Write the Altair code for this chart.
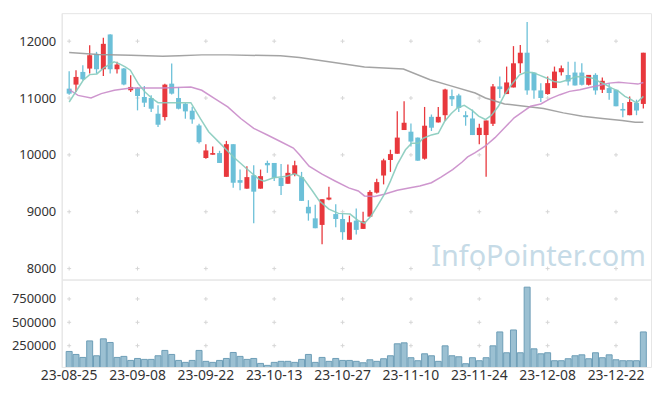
import altair as alt
import pandas as pd

# ---------------- data ----------------
opens = [11165, 11236, 11459, 11518, 11777, 11506, 12118, 11506, 11518, 11136,
         11177, 11018, 11000, 10724, 10665, 11253, 11000, 10900, 10777, 10518,
         9945, 10003, 10032, 9614, 10188, 9556, 9406, 9643, 9406, 9858,
         9858, 9597, 9492, 9655, 9609, 9087, 8884, 8768, 9214, 8959,
         8872, 8507, 8843, 8698, 8913, 9336, 9637, 9910, 10020, 10437,
         10408, 10304, 9933, 10669, 10571, 10698, 11035, 11046, 10698, 10640,
         10349, 10349, 10547, 11204, 11070, 11186, 11611, 11797, 11448, 11134,
         11070, 11175, 11454, 11407, 11448, 11448, 11233, 11407, 11146, 11175,
         11146, 10808, 10698, 10913, 10896]
highs = [11471, 11489, 11577, 11930, 11812, 12059, 12120, 11636, 11530, 11400,
         11190, 11212, 11047, 10871, 11253, 11606, 11195, 10910, 10848, 10548,
         10188, 10148, 10072, 10246, 10188, 9742, 9800, 9817, 9742, 9898,
         9858, 9840, 9829, 9898, 9701, 9203, 9122, 9220, 9440, 9133,
         8959, 8930, 9058, 9000, 9377, 9580, 9933, 10090, 10768, 10942,
         10553, 10304, 10843, 10710, 10843, 11162, 11150, 11075, 10768, 10797,
         10547, 10605, 11245, 11378, 11553, 11913, 11931, 12338, 11448, 11262,
         11378, 11553, 11570, 11640, 11640, 11611, 11407, 11436, 11361, 11262,
         11146, 10913, 11029, 10971, 11797]
lows = [11059, 11106, 11310, 11430, 11430, 11389, 11430, 11430, 11224, 11106,
        10783, 10842, 10753, 10489, 10606, 11060, 10800, 10636, 10548, 10200,
        9933, 10003, 9858, 9614, 9423, 9377, 9406, 8797, 9406, 9684,
        9539, 9295, 9492, 9626, 9191, 8843, 8710, 8426, 9203, 8727,
        8507, 8507, 8600, 8698, 8913, 9319, 9481, 9701, 10020, 10437,
        10148, 9898, 9916, 10420, 10571, 10594, 10861, 10756, 10513, 10349,
        10186, 9617, 10506, 11000, 11070, 11186, 11436, 11059, 10989, 10931,
        11059, 11175, 11396, 11221, 11221, 11221, 11221, 11059, 11088, 10971,
        10855, 10663, 10698, 10698, 10814]
closes = [11077, 11371, 11330, 11753, 11506, 11953, 11506, 11589, 11236, 11195,
          11036, 10918, 10812, 10530, 11236, 11077, 10812, 10765, 10624, 10224,
          10078, 10032, 9858, 10188, 9510, 9510, 9609, 9353, 9626, 9817,
          9597, 9452, 9684, 9817, 9191, 8971, 8710, 9220, 9249, 8872,
          8640, 8814, 8681, 8832, 9348, 9521, 9904, 10014, 10304, 10565,
          10234, 9898, 10513, 10478, 10669, 11150, 10977, 10826, 10663, 10349,
          10477, 10605, 11204, 11157, 11274, 11611, 11797, 11134, 11134, 11000,
          11262, 11465, 11524, 11291, 11221, 11233, 11407, 11134, 11303, 11088,
          10855, 10780, 10931, 10780, 11797]
volumes = [188000, 156000, 124000, 301000, 142000, 323000, 284000, 124000, 135000, 92000,
           113000, 103000, 103000, 142000, 199000, 156000, 92000, 71000, 92000, 199000,
           82000, 71000, 92000, 113000, 177000, 135000, 103000, 113000, 60000, 39000,
           71000, 82000, 82000, 71000, 103000, 156000, 71000, 124000, 82000, 113000,
           92000, 92000, 82000, 67000, 99000, 82000, 110000, 142000, 270000, 280000,
           121000, 89000, 163000, 142000, 82000, 248000, 142000, 131000, 57000, 121000,
           89000, 121000, 248000, 397000, 174000, 418000, 174000, 876000, 216000, 163000,
           174000, 89000, 89000, 110000, 142000, 152000, 110000, 174000, 121000, 152000,
           99000, 89000, 89000, 89000, 397000]

tick_pos = [0, 10, 20, 30, 40, 50, 60, 70, 80]
tick_labels = ["23-08-25", "23-09-08", "23-09-22", "23-10-13", "23-10-27",
               "23-11-10", "23-11-24", "23-12-08", "23-12-22"]
price_ticks = [8000, 9000, 10000, 11000, 12000]
volume_ticks = [250000, 500000, 750000]

ma5_pos = [0, 2.05, 3, 4.05, 5.05, 6.57, 7.3, 8.2, 8.95, 10.1, 11.1, 12.05, 13, 17.8, 19.2,
           20.4, 22.3, 24.2, 26.1, 27.8, 28.5, 29.9, 31.8, 33, 34.2, 35.6, 36.6, 38, 39.4,
           41.1, 42.3, 43.2, 44.2, 45.1, 46.1, 47, 48, 49.2, 50.1, 51.1, 51.8, 53, 54,
           54.9, 55.9, 56.8, 57.8, 59, 59.9, 60.9, 61.8, 62.8, 63.7, 64.7, 65.9, 66.8,
           67.8, 68.7, 69.9, 70.9, 71.8, 73, 74.2, 75.4, 76.6, 77.5, 78.5, 79.4, 80.4,
           81.3, 82, 83, 84]
ma5_val = [10930, 11312, 11412, 11424, 11530, 11636, 11606, 11547, 11489, 11253, 11106, 11000, 10918, 10918, 10636,
           10408, 10176, 9945, 9742, 9568, 9539, 9597, 9626, 9666, 9597, 9365, 9191, 9046, 8971,
           8959, 8843, 8797, 8930, 9104, 9307, 9539, 9829, 10090, 10206, 10206, 10293, 10351, 10380,
           10582, 10727, 10826, 10870, 10779, 10681, 10622, 10698, 10855, 11059, 11233, 11407, 11454,
           11448, 11407, 11349, 11291, 11279, 11320, 11378, 11372, 11349, 11291, 11233, 11175, 11117,
           11029, 10989, 10913, 11029]

ma20_pos = [0, 1.3, 3.2, 4.7, 6.6, 9, 13.7, 17.8, 19.4, 21.3, 23.2, 25.1, 27, 29, 30.9, 32.8,
            33.7, 35.1, 37, 38.9, 40.9, 42.3, 43.2, 44.7, 46.1, 48, 49.9, 51.3, 53, 54.4,
            56.1, 57.5, 58.3, 59.4, 60.9, 62.3, 63.7, 65.1, 66.6, 67.5, 69, 70.4, 71.8,
            73.2, 74.7, 76.1, 77.5, 79, 80.4, 81.8, 83.2, 84]
ma20_val = [11150, 11047, 11000, 11077, 11136, 11177, 11177, 11195, 11136, 10988, 10843, 10640, 10466, 10350, 10235, 10119,
            10003, 9800, 9660, 9540, 9420, 9365, 9278, 9267, 9307, 9377, 9423, 9452, 9510, 9609,
            9742, 9875, 9965, 10041, 10157, 10303, 10477, 10652, 10779, 10855, 10896, 10989, 11059,
            11117, 11146, 11186, 11221, 11262, 11279, 11262, 11245, 11274]

malong_pos = [0, 4.2, 9, 13.7, 16.1, 19.4, 23.2, 30.9, 33.7, 38.5, 43.2, 48.9, 52.8, 55.6,
              59.4, 60.9, 63.7, 66.6, 69.4, 72.3, 75.1, 78, 80.9, 82.8, 84]
malong_val = [11800, 11765, 11753, 11736, 11742, 11759, 11759, 11742, 11713, 11631, 11544, 11509, 11322, 11223,
              11089, 11000, 10896, 10855, 10814, 10739, 10681, 10640, 10605, 10576, 10576]

# ---------------- tables ----------------
n = len(opens)
df = pd.DataFrame({"i": list(range(n)), "open": opens, "high": highs,
                   "low": lows, "close": closes, "volume": volumes})
df["dir"] = ["up" if c >= o else "down" for o, c in zip(opens, closes)]

ma5_df = pd.DataFrame({"i": ma5_pos, "v": ma5_val})
ma20_df = pd.DataFrame({"i": ma20_pos, "v": ma20_val})
malong_df = pd.DataFrame({"i": malong_pos, "v": malong_val})

cross_main = pd.DataFrame([(x, y) for x in tick_pos for y in price_ticks], columns=["i", "v"])
cross_vol = pd.DataFrame([(x, y) for x in tick_pos for y in volume_ticks], columns=["i", "v"])
label_df = pd.DataFrame({"i": tick_pos, "lab": tick_labels})

W = 593
H_MAIN = 268
H_VOL = 88
FONT = "Noto Sans"
xdom = [-0.37, 84.4]


def xs():
    return alt.Scale(domain=xdom, nice=False, zero=False)


def ps():
    return alt.Scale(domain=[7808, 12493], nice=False, zero=False)


def vs():
    return alt.Scale(domain=[22000, 958000], nice=False, zero=False)


def p_axis():
    return alt.Axis(values=price_ticks, format="d", title=None)


def v_axis():
    return alt.Axis(values=volume_ticks, format="d", title=None)


CROSS = "M-1,0L1,0M0,-1L0,1"
RED = "#e8383d"
BLUE = "#6cc0d8"

up_df = df[df["dir"] == "up"]
dn_df = df[df["dir"] == "down"]


def candles(data, color):
    w = alt.Chart(data).mark_rule(strokeWidth=1.3, color=color).encode(
        x=alt.X("i:Q", scale=xs(), axis=None),
        y=alt.Y("low:Q", scale=ps(), axis=p_axis()),
        y2="high:Q",
    )
    b = alt.Chart(data).mark_bar(size=5, color=color).encode(
        x=alt.X("i:Q", scale=xs(), axis=None),
        y=alt.Y("open:Q", scale=ps(), axis=p_axis()),
        y2="close:Q",
    )
    return [w, b]


crosses_m = alt.Chart(cross_main).mark_point(
    shape=CROSS, size=16, filled=False, color="#d6d6d6", strokeWidth=1, opacity=1
).encode(
    x=alt.X("i:Q", scale=xs(), axis=None),
    y=alt.Y("v:Q", scale=ps(), axis=p_axis()),
)


def ma_line(data, color):
    return alt.Chart(data).mark_line(strokeWidth=1.5, opacity=0.9, color=color).encode(
        x=alt.X("i:Q", scale=xs(), axis=None),
        y=alt.Y("v:Q", scale=ps(), axis=p_axis()),
    )


watermark = alt.Chart(pd.DataFrame({"t": ["InfoPointer.com"]})).mark_text(
    align="right", baseline="alphabetic", font=FONT, fontSize=29, color="#c6dbe7"
).encode(text="t:N", x=alt.value(588), y=alt.value(254))

main = alt.layer(
    crosses_m, watermark,
    *candles(up_df, RED), *candles(dn_df, BLUE),
    ma_line(malong_df, "#9a9a9a"), ma_line(ma20_df, "#c98bc9"), ma_line(ma5_df, "#86cbbd"),
).properties(width=W, height=H_MAIN)

vol_bars = alt.Chart(df).mark_bar(size=6, fill="#9bc0d2", stroke="#6d9db6",
                                  strokeWidth=1, clip=True).encode(
    x=alt.X("i:Q", scale=xs(), axis=None),
    y=alt.Y("volume:Q", scale=vs(), axis=v_axis()),
)
crosses_v = alt.Chart(cross_vol).mark_point(
    shape=CROSS, size=16, filled=False, color="#d6d6d6", strokeWidth=1, opacity=1
).encode(x=alt.X("i:Q", scale=xs(), axis=None), y=alt.Y("v:Q", scale=vs(), axis=v_axis()))

date_labels = alt.Chart(label_df).mark_text(
    baseline="top", font=FONT, fontSize=14, color="#333333", dy=2
).encode(x=alt.X("i:Q", scale=xs(), axis=None), y=alt.value(H_VOL), text="lab:N")

vol = alt.layer(crosses_v, vol_bars, date_labels).properties(width=W, height=H_VOL)

chart = alt.vconcat(main, vol, spacing=0, bounds="flush").properties(
    padding={"left": 2, "top": 3, "right": 5, "bottom": 5}
).configure_view(stroke="#e6e6e6").configure_axis(
    labelFont=FONT, labelFontSize=13, labelColor="#333333", ticks=False,
    grid=False, domainColor="#e6e6e6", labelPadding=6
)

chart.save("out.html", embed_options={"renderer": "svg", "actions": False})
